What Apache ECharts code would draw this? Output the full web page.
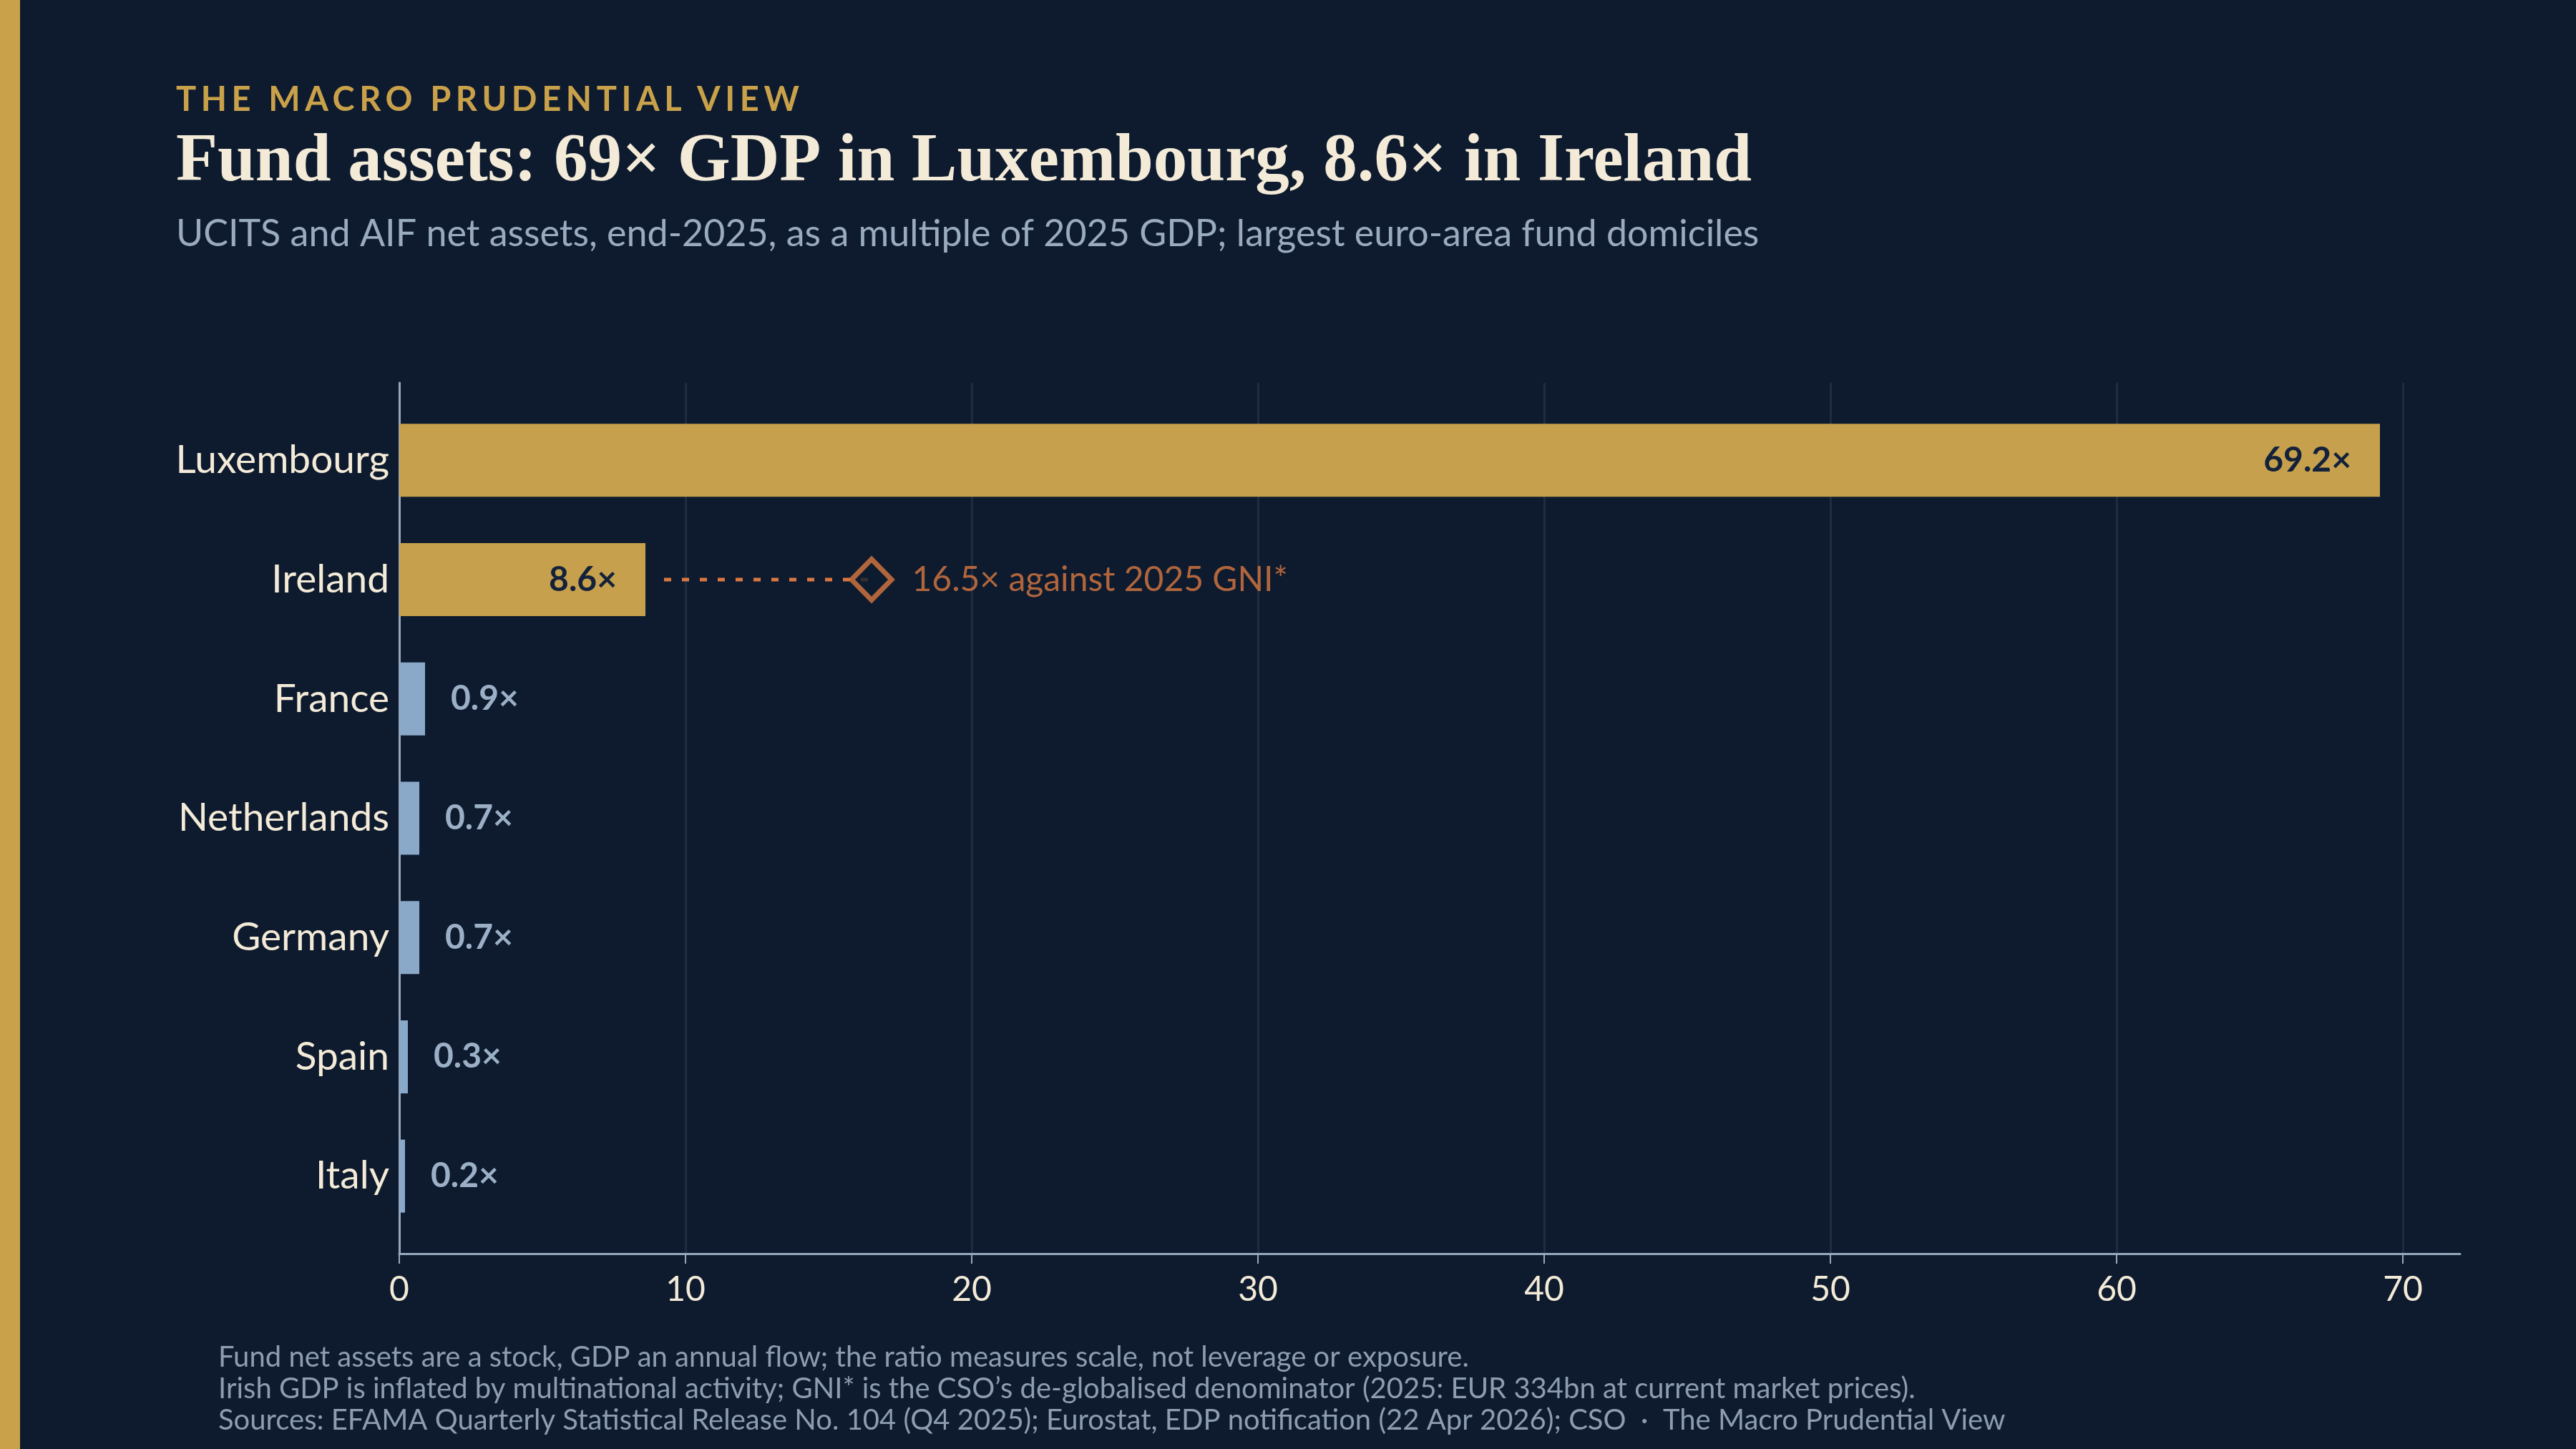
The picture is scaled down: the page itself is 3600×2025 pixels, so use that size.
<!DOCTYPE html>
<html>
<head>
<meta charset="utf-8">
<title>Fund assets as a multiple of GDP</title>
<script src="https://cdn.jsdelivr.net/npm/echarts@6/dist/echarts.min.js"></script>
<style>
  html, body { margin: 0; padding: 0; background: #0e1b2e; }
  #wrap { position: relative; width: 3600px; height: 2025px; overflow: hidden; }
  #chart { position: absolute; left: 0; top: 0; width: 3600px; height: 2025px; }
  #kicker {
    position: absolute; left: 246px; top: 114px;
    font: bold 47px/47px Lato, sans-serif; letter-spacing: 6.6px;
    color: #c9a14a; white-space: nowrap;
  }
</style>
</head>
<body>
<div id="wrap">
  <div id="chart"></div>
  <div id="kicker">THE MACRO PRUDENTIAL VIEW</div>
</div>
<script>
// data
const countries = ['Luxembourg', 'Ireland', 'France', 'Netherlands', 'Germany', 'Spain', 'Italy'];
const gdpMultiple = [69.2, 8.6, 0.9, 0.7, 0.7, 0.3, 0.2];
const highlighted = ['Luxembourg', 'Ireland'];
const irelandGni = 16.5;
const xTicks = [0, 10, 20, 30, 40, 50, 60, 70];

const title = 'Fund assets: 69× GDP in Luxembourg, 8.6× in Ireland';
const subtitle = 'UCITS and AIF net assets, end-2025, as a multiple of 2025 GDP; largest euro-area fund domiciles';
const notes = [
  'Fund net assets are a stock, GDP an annual flow; the ratio measures scale, not leverage or exposure.',
  'Irish GDP is inflated by multinational activity; GNI* is the CSO\u2019s de-globalised denominator (2025: EUR 334bn at current market prices).',
  'Sources: EFAMA Quarterly Statistical Release No. 104 (Q4 2025); Eurostat, EDP notification (22 Apr 2026); CSO  \u00b7  The Macro Prudential View'
];

const BG = '#0e1b2e';
const GOLD = '#c6a04c';
const BLUE = '#8aa8c8';
const ORANGE = '#d97840';
const CREAM = '#f3ead8';
const FONT = 'Lato, sans-serif';

const xMax = 72;
const fmt = v => v.toFixed(1) + '\u00d7';

const barData = countries.map((c, i) => {
  const hi = highlighted.includes(c);
  return {
    value: gdpMultiple[i],
    itemStyle: { color: hi ? GOLD : BLUE },
    label: hi
      ? { position: 'insideRight', distance: 40, color: '#13213a' }
      : { position: 'right', distance: 36, color: '#9bb0c6' }
  };
});

const gniIdx = countries.indexOf('Ireland');

const chart = echarts.init(document.getElementById('chart'), null, { renderer: 'canvas' });

chart.setOption({
  backgroundColor: BG,
  animation: false,
  textStyle: { fontFamily: FONT },
  grid: [
    // outer frame: axis lines
    { left: 558, right: 162, top: 535, bottom: 273 },
    // ticks / gridlines up to 70
    { left: 558, right: 242, top: 535, bottom: 273 },
    // bars
    { left: 558, right: 162, top: 560, bottom: 298 }
  ],
  xAxis: [
    {
      gridIndex: 0, type: 'value', min: 0, max: xMax,
      axisLine: { show: true, lineStyle: { color: '#95a8bd', width: 3 } },
      axisTick: { show: false }, axisLabel: { show: false }, splitLine: { show: false }
    },
    {
      gridIndex: 1, type: 'value', min: xTicks[0], max: xTicks[xTicks.length - 1], interval: 10,
      axisLine: { show: false },
      axisTick: { show: true, length: 14, lineStyle: { color: '#95a8bd', width: 2 } },
      axisLabel: { show: true, color: CREAM, fontSize: 48, margin: 27, fontFamily: FONT },
      splitLine: { show: true, lineStyle: { color: '#1e2c42', width: 3 } }
    },
    {
      gridIndex: 2, type: 'value', min: 0, max: xMax, show: false
    }
  ],
  yAxis: [
    {
      gridIndex: 0, type: 'value', min: 0, max: 1,
      axisLine: { show: true, lineStyle: { color: '#95a8bd', width: 3 } },
      axisTick: { show: false }, axisLabel: { show: false }, splitLine: { show: false }
    },
    {
      gridIndex: 1, type: 'value', min: 0, max: 1, show: false
    },
    {
      gridIndex: 2, type: 'category', data: countries, inverse: true,
      axisLine: { show: false }, axisTick: { show: false }, splitLine: { show: false },
      axisLabel: { color: CREAM, fontSize: 55, margin: 14, fontFamily: FONT }
    }
  ],
  series: [
    {
      type: 'bar', xAxisIndex: 2, yAxisIndex: 2,
      data: barData, barWidth: 102, z: 3,
      label: {
        show: true, fontSize: 48, fontWeight: 'bold', fontFamily: FONT,
        formatter: p => fmt(p.value)
      }
    },
    {
      type: 'line', xAxisIndex: 2, yAxisIndex: 2, z: 4,
      data: [[gdpMultiple[gniIdx] + 0.65, countries[gniIdx]], [irelandGni, countries[gniIdx]]],
      symbol: 'none', silent: true,
      lineStyle: { color: ORANGE, width: 5, type: [10, 15] }
    },
    {
      type: 'scatter', xAxisIndex: 2, yAxisIndex: 2, z: 5,
      data: [[irelandGni, countries[gniIdx]]],
      symbol: 'diamond', symbolSize: [56, 57],
      itemStyle: { color: BG, borderColor: ORANGE, borderWidth: 7 },
      label: {
        show: true, position: 'right', distance: 25,
        color: ORANGE, fontSize: 48, fontFamily: FONT,
        formatter: p => fmt(p.value[0]) + ' against 2025 GNI*'
      }
    }
  ],
  graphic: [
    { type: 'rect', left: 0, top: 0, shape: { width: 28, height: 2025 }, style: { fill: '#c9a14a' } },
    {
      type: 'text', left: 246, top: 180,
      style: { text: title, fill: CREAM, font: 'bold 95px "Liberation Serif", "DejaVu Serif", serif' }
    },
    {
      type: 'text', left: 246, top: 301,
      style: { text: subtitle, fill: '#9aabbf', font: '52px Lato, sans-serif' }
    },
    ...notes.map((t, i) => ({
      type: 'text', left: 305, top: [1877, 1921, 1965][i],
      style: { text: t, fill: '#8d9cb0', font: '40px Lato, sans-serif' }
    }))
  ]
});
</script>
</body>
</html>
